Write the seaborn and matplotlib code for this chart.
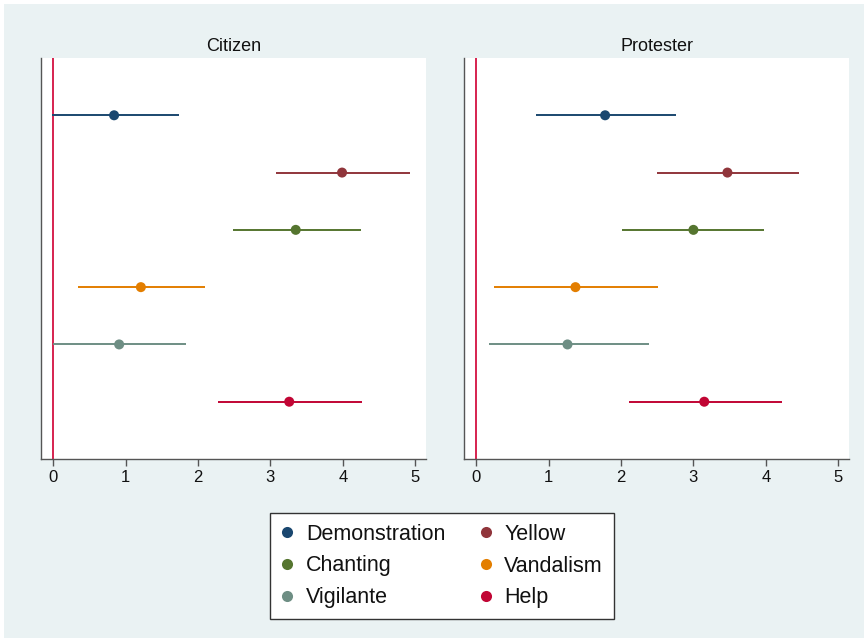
import matplotlib
matplotlib.use("Agg")
import matplotlib.pyplot as plt
from matplotlib.lines import Line2D
from matplotlib.patches import Rectangle
import seaborn as sns
import pandas as pd

categories = ["Demonstration", "Yellow", "Chanting", "Vandalism", "Vigilante", "Help"]
colors = ["#1A476F", "#90353B", "#55752F", "#E37E00", "#6E8E84", "#C10534"]
panels = ["Citizen", "Protester"]

citizen_est = [0.84, 3.99, 3.35, 1.21, 0.91, 3.26]
citizen_lo = [-0.02, 3.08, 2.48, 0.34, 0.00, 2.27]
citizen_hi = [1.74, 4.93, 4.25, 2.09, 1.83, 4.27]

protester_est = [1.78, 3.47, 3.00, 1.37, 1.26, 3.15]
protester_lo = [0.83, 2.50, 2.01, 0.24, 0.17, 2.11]
protester_hi = [2.76, 4.46, 3.98, 2.51, 2.39, 4.22]

xticks = [0, 1, 2, 3, 4, 5]

rows = []
for panel, est, lo, hi in [("Citizen", citizen_est, citizen_lo, citizen_hi),
                           ("Protester", protester_est, protester_lo, protester_hi)]:
    for i, c in enumerate(categories):
        rows.append(dict(panel=panel, category=c, est=est[i], lo=lo[i], hi=hi[i], pos=i + 1))
df = pd.DataFrame(rows)

sns.set_style("white")
plt.rcParams["font.family"] = ["Liberation Sans", "DejaVu Sans"]

bg = "#EAF2F3"
fig = plt.figure(figsize=(8.68, 6.38), dpi=100, facecolor="white")
bgrect = Rectangle((4 / 868, 0), 1 - 8 / 868, 1 - 4 / 638,
                   transform=fig.transFigure, facecolor=bg,
                   edgecolor="none", zorder=-10)
fig.patches.append(bgrect)

palette = dict(zip(categories, colors))
lefts = [41 / 868, 464 / 868]
for k, panel in enumerate(panels):
    ax = fig.add_axes([lefts[k], 1 - 459 / 638, 385 / 868, 401 / 638])
    ax.set_facecolor("white")
    sub = df[df.panel == panel]
    ax.axvline(0, color="#D6234F", lw=1.4, zorder=1)
    ax.hlines(sub["pos"], sub["lo"], sub["hi"],
              colors=[palette[c] for c in sub["category"]], lw=1.4, zorder=2)
    sns.scatterplot(data=sub, x="est", y="pos", hue="category", palette=palette,
                    s=52, edgecolor="none", legend=False, ax=ax, zorder=3)
    ax.set_xlim(-0.17, 5.15)
    ax.set_ylim(7, 0)
    ax.set_yticks([])
    ax.set_xticks(xticks)
    ax.set_xticklabels([str(t) for t in xticks], fontsize=12, color="#111111")
    ax.tick_params(axis="x", length=5, width=1, color="#555555", pad=3, bottom=True)
    ax.set_xlabel("")
    ax.set_ylabel("")
    for s in ["top", "right"]:
        ax.spines[s].set_visible(False)
    for s in ["left", "bottom"]:
        ax.spines[s].set_color("#555555")
        ax.spines[s].set_linewidth(1.0)
    ax.set_title(panel, fontsize=13, pad=5, color="#111111")

handles = [Line2D([], [], marker="o", linestyle="none", markersize=8,
                  markerfacecolor=col, markeredgecolor="none", label=c)
           for c, col in zip(categories, colors)]
order = [0, 2, 4, 1, 3, 5]
leg = fig.legend([handles[i] for i in order], [categories[i] for i in order],
                 ncol=2, loc="center", bbox_to_anchor=(442 / 868, 1 - 566 / 638),
                 fontsize=15.5, frameon=True, fancybox=False, framealpha=1.0,
                 handletextpad=0.55, columnspacing=1.6, labelspacing=0.5,
                 borderpad=0.5, handlelength=0.6)
for t in leg.get_texts():
    t.set_color("#111111")
leg.get_frame().set_edgecolor("#333333")
leg.get_frame().set_linewidth(1.0)
leg.get_frame().set_facecolor("white")

fig.savefig("out.png", dpi=100, facecolor=fig.get_facecolor())
